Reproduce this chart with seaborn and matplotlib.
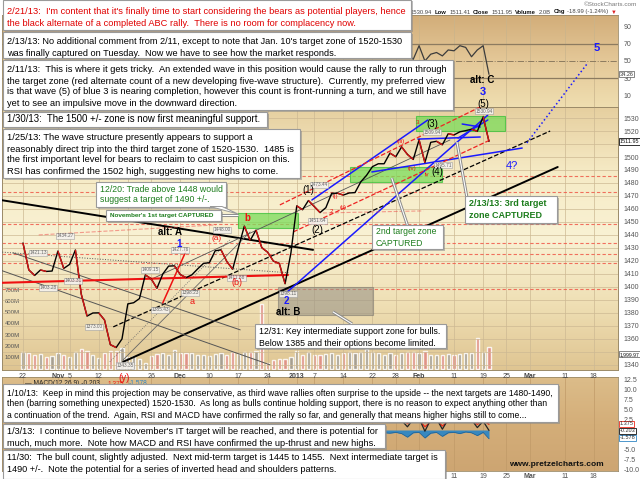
import numpy as np
import pandas as pd
import matplotlib.pyplot as plt
import matplotlib.patches as mpatches
import matplotlib.transforms as mtrans
from matplotlib.collections import LineCollection
from matplotlib.colors import LinearSegmentedColormap
import seaborn as sns

sns.set_style("white")
plt.rcParams['font.family'] = ['Liberation Sans', 'DejaVu Sans']

# ============================================
# Chart data (trading-day index 0 = 22 Oct 2012)
# ============================================

close = [1433.8, 1413.1, 1408.8, 1413.0, 1411.9, 1412.2, 1427.6, 1414.2, 1417.3, 1428.4,
         1394.5, 1377.5, 1379.9, 1380.0, 1374.5, 1355.5, 1353.3, 1359.9, 1386.9, 1387.8,
         1391.0, 1409.2, 1406.3, 1398.9, 1409.9, 1416.0, 1416.2, 1409.5, 1407.1, 1409.3,
         1413.9, 1418.1, 1418.6, 1427.8, 1428.5, 1419.5, 1413.6, 1430.4, 1446.8, 1435.8,
         1443.7, 1430.2, 1426.7, 1419.8, 1418.1, 1402.4, 1426.2, 1462.4, 1459.4, 1466.5,
         1461.9, 1457.2, 1461.0, 1472.1, 1472.1, 1470.7, 1472.3, 1472.6, 1480.9, 1486.0,
         1492.6, 1494.8, 1494.8, 1503.0, 1500.2, 1507.8, 1502.0, 1498.1, 1513.2, 1495.7,
         1511.3, 1512.1, 1509.4, 1517.9, 1517.0, 1519.4, 1520.3, 1521.4, 1519.8, 1530.9,
         1512.0]
days = list(range(len(close)))

volume = [150, 140, 130, 135, 110, 120, 145, 125, 110, 150, 175, 165, 130, 100, 140, 165,
          160, 190, 110, 120, 95, 55, 120, 135, 140, 130, 170, 140, 140, 145, 130, 130,
          120, 135, 140, 125, 150, 135, 150, 155, 160, 580, 60, 80, 90, 95, 110, 160,
          130, 150, 125, 130, 135, 145, 130, 140, 150, 140, 155, 175, 150, 140, 130, 145,
          125, 140, 150, 155, 145, 160, 130, 125, 130, 135, 125, 135, 140, 145, 280, 150,
          200]

ind_days = list(range(60, 81))
rsi = [72, 73, 71, 75, 70, 74, 58, 52, 68, 50, 58, 60, 56, 63, 62, 68, 66, 55, 63, 68, 34.3]
macd = [3.0, 2.8, 3.1, 2.6, 2.9, 2.4, 0.8, 2.7, 2.9, -0.3, 2.6, 2.8, 0.2, 2.7, 2.9, 2.5,
        2.8, 2.6, 0.6, 2.2, -0.1]
signal = [2.7, 2.9, 2.8, 3.0, 2.7, 2.9, 1.6, 2.3, 2.6, 0.8, 2.0, 2.5, 1.0, 2.2, 2.6, 2.4,
          2.6, 2.5, 1.4, 2.4, 1.4]
hist = [-0.6, -0.5, -0.7, -0.8, -0.6, -0.9, -1.8, -0.7, -0.6, -2.0, -0.8, -0.6, -1.6, -0.7,
        -0.6, -0.9, -0.5, -0.7, -1.4, -0.6, -2.2]

tick_pos = [0, 6, 8, 13, 18, 22, 27, 32, 37, 42, 47, 50, 55, 60, 64, 68, 74, 79, 83, 87, 93, 98]
tick_lab = ['22', 'Nov', '5', '12', '', '26', 'Dec', '10', '17', '24', '2013', '7', '14',
            '22', '28', 'Feb', '11', '19', '25', 'Mar', '11', '18']
bold_ticks = ['Nov', 'Dec', '2013', 'Feb', 'Mar']
price_ticks = list(range(1340, 1531, 10))

# horizontal target levels (red dashed)
levels = [1485, 1473, 1448.5, 1434, 1425.5, 1418.5, 1398.5]

# target zones: (day0, day1, price0, price1)
green_zones = [(36.9, 47.2, 1445, 1457), (56.1, 71.9, 1481, 1492), (67.5, 82.7, 1520, 1531.5)]
support_zone = (43.8, 60.1, 1378.5, 1400)

# trend lines: (day0, price0, day1, price1, color, width, style, alpha)
trend_lines = [
    (-4.0, 1467.0, 49.8, 1428.5, 'black', 1.4, '-', 1),
    (17.2, 1342.3, 91.8, 1492.3, 'black', 1.4, '-', 1),
    (15.5, 1369.2, 90.5, 1520.0, 'black', 0.9, '--', 1),
    (-4.0, 1413.1, 42.4, 1340.0, '#555555', 0.7, '-', 1),
    (-1.7, 1426.2, 37.3, 1366.9, '#555555', 0.7, '-', 1),
    (-4.0, 1426.9, 45.8, 1410.8, '#555555', 0.7, ':', 1),
    (17.2, 1343.8, 39.0, 1442.3, '#666666', 0.6, '-', 1),
    (14.9, 1342.3, 35.5, 1436.2, '#666666', 0.6, ':', 1),
    (21.8, 1405.4, 73.3, 1513.1, '#555555', 0.6, '-', 1),
    (45.2, 1395.4, 79.8, 1532.3, '#1a1aff', 1.1, '-', 1),
    (49.6, 1466.9, 69.5, 1528.5, '#1a1aff', 1.1, '-', 1),
    (59.9, 1488.5, 85.7, 1506.9, '#1a1aff', 1.1, '-', 1),
    (67.8, 1513.8, 78.5, 1515.4, '#1a1aff', 1.1, '-', 1),
    (75.4, 1525.4, 78.5, 1523.1, '#1a1aff', 1.1, '-', 1),
    (74.7, 1514.6, 79.8, 1528.5, '#1a1aff', 1.1, '-', 1),
    (44.1, 1463.1, 78.8, 1539.2, '#ee2222', 0.9, '--', 1),
    (46.4, 1442.3, 80.2, 1513.1, '#ee2222', 0.9, '--', 1),
    (51.5, 1456.9, 68.7, 1458.5, '#ee4444', 0.8, '--', 0.5),
    (2.7, 1440.0, 33.1, 1447.7, '#ee4444', 0.8, '--', 0.5),
    (-4.0, 1403.1, 45.5, 1409.2, '#ee1111', 1.5, '-', 1),
    (24.0, 1387.7, 28.0, 1427.7, '#ee1111', 1.1, '-', 1),
]
blue_dotted = (86.5, 1510.8, 96.8, 1571.5)

# gray pointer lines from comment boxes
pointers = [(63.3, 1483.8, 66.1, 1446.2), (74.5, 1511.5, 76.2, 1469.2),
            (53.2, 1380.8, 56.5, 1371.5), (34.0, 1455.4, 36.9, 1455.4)]

# wave labels: (text, day, price, color, size, weight)
wave_labels = [
    ('alt: A', 25.2, 1442.3, 'black', 7, 'bold'), ('1', 26.8, 1433.0, '#1a1aff', 7, 'bold'),
    ('(a)', 33.3, 1437.0, '#ee1111', 6, 'normal'), ('b', 38.5, 1453.0, '#ee1111', 7, 'bold'),
    ('(b)', 36.7, 1403.0, '#ee1111', 6.5, 'normal'), ('a', 29.0, 1388.5, '#ee1111', 6.5, 'normal'),
    ('2', 45.3, 1389.0, '#1a1aff', 7, 'bold'), ('alt: B', 45.5, 1380.8, 'black', 7, 'bold'),
    ('(1)', 48.9, 1474.6, 'black', 7, 'normal'), ('(2)', 50.6, 1443.8, 'black', 7, 'normal'),
    ('(3)', 70.2, 1525.4, 'black', 7, 'normal'), ('(4)', 71.2, 1488.5, 'black', 7, 'normal'),
    ('(5)', 79.0, 1540.8, 'black', 7, 'normal'), ('3', 79.0, 1550.0, '#1a1aff', 8, 'bold'),
    ('alt: C', 78.8, 1559.2, 'black', 7, 'bold'), ('4?', 83.9, 1493.0, '#1a1aff', 8, 'normal'),
    ('5', 98.5, 1583.8, '#1a1aff', 8, 'bold'), ('(y)', 17.3, 1330.0, '#ee1111', 7, 'normal'),
]
small_red = [('3', 67.8, 1526.2), ('(iii)', 64.9, 1512.3), ('(iv)', 66.8, 1491.5),
             ('iv', 69.4, 1486.2), ('(i)', 53.6, 1469.5), ('2', 53.0, 1457.7), ('(ii)', 54.9, 1461.2)]

# small price tags on highs/lows
price_tags = [('1434.27', 7.2, 1439.2), ('1421.13', 2.6, 1426.2), ('1403.28', 4.3, 1399.2),
              ('1403.31', 8.6, 1404.6), ('1373.00', 12.2, 1369.2), ('1343.35', 17.5, 1339.5),
              ('1409.15', 21.8, 1413.0), ('1385.43', 23.5, 1382.3), ('1427.76', 27.0, 1428.5),
              ('1398.23', 28.7, 1395.4), ('1411.88', 36.7, 1407.0), ('1398.11', 45.5, 1394.6),
              ('1448.00', 34.2, 1443.8), ('1473.44', 50.8, 1478.5), ('1451.64', 50.6, 1450.8),
              ('1509.94', 70.2, 1519.2), ('1495.71', 72.1, 1493.8), ('1530.94', 79.1, 1535.4)]

# comment boxes: (x0, y0, x1, y1) in pixels, lines, line y's, colour, size, weight
GREEN = '#1d7d1d'
boxes = [
    ((3, 0, 411, 30), ["2/21/13:  I'm content that it's finally time to start considering the bears as potential players, hence",
                       "the black alternate of a completed ABC rally.  There is no room for complacency now."],
     [12, 24], '#e00000', 6.7, 'normal'),
    ((3, 32, 411, 58), ["2/13/13: No additional comment from 2/11, except to note that Jan. 10's target zone of 1520-1530",
                        "was finally captured on Tuesday.  Now we have to see how the market responds."],
     [42, 53], 'black', 6.6, 'normal'),
    ((3, 60, 453, 110), ["2/11/13:  This is where it gets tricky.  An extended wave in this position would cause the rally to run through",
                         "the target zone (red alternate count of a new developing five-wave structure).  Currently, my preferred view",
                         "is that wave (5) of blue 3 is nearing completion, however this count is front-running a turn, and we still have",
                         "yet to see an impulsive move in the downward direction."],
     [69, 81, 92, 103], 'black', 6.7, 'normal'),
    ((3, 112, 267, 127), ["1/30/13:  The 1500 +/- zone is now first meaningful support."], [119.5], 'black', 6.9, 'normal'),
    ((3, 129, 300, 178), ["1/25/13: The wave structure presently appears to support a",
                          "reasonably direct trip into the third target zone of 1520-1530.  1485 is",
                          "the first important level for bears to reclaim to cast suspicion on this.",
                          "RSI has confirmed the 1502 high, suggesting new highs to come."],
     [138, 149, 160, 171], 'black', 6.75, 'normal'),
    ((96, 182, 226, 207), ["12/20: Trade above 1448 would", "suggest a target of 1490 +/-."],
     [189, 200], GREEN, 6.3, 'normal'),
    ((106, 210, 221, 221), ["November's 1st target CAPTURED"], [215.5], GREEN, 4.6, 'bold'),
    ((372, 225, 443, 249), ["2nd target zone", "CAPTURED"], [232, 243], GREEN, 6.2, 'normal'),
    ((465, 196, 557, 223), ["2/13/13: 3rd target", "zone CAPTURED"], [204, 216], GREEN, 6.5, 'bold'),
    ((255, 324, 446, 348), ["12/31: Key intermediate support zone for bulls.",
                            "Below 1385 and their options become limited."], [331, 343], 'black', 6.3, 'normal'),
    ((3, 384, 558, 422), ["1/10/13:  Keep in mind this projection may be conservative, as third wave rallies often surprise to the upside -- the next targets are 1480-1490,",
                          "then (barring something unexpected) 1520-1530.  As long as bulls continue holding support, there is no reason to expect anything other than",
                          "a continuation of the trend.  Again, RSI and MACD have confirmed the rally so far, and generally that means higher highs still to come..."],
     [393, 404, 415], 'black', 6.2, 'normal'),
    ((3, 424, 385, 448), ["1/3/13:  I continue to believe November's IT target will be reached, and there is potential for",
                          "much, much more.  Note how MACD and RSI have confirmed the up-thrust and new highs."],
     [431, 443], 'black', 6.6, 'normal'),
    ((3, 450, 445, 479), ["11/30:  The bull count, slightly adjusted.  Next mid-term target is 1445 to 1455.  Next intermediate target is",
                          "1490 +/-.  Note the potential for a series of inverted head and shoulders patterns."],
     [458, 470], 'black', 6.6, 'normal'),
]

# ============================================
# Figure layout
# ============================================

W, H = 640, 479
fig = plt.figure(figsize=(6.4, 4.79), dpi=100)
fig.patch.set_facecolor('white')


def rect(x0, y0, x1, y1):
    return [x0 / W, 1 - y1 / H, (x1 - x0) / W, (y1 - y0) / H]


def fx(x):
    return x / W


def fy(y):
    return 1 - y / H


def gradient(ax, colors):
    cmap = LinearSegmentedColormap.from_list('bg', colors)
    grad = np.linspace(0, 1, 256).reshape(-1, 1)
    ax.imshow(grad, cmap=cmap, aspect='auto', extent=[0, 1, 0, 1],
              transform=ax.transAxes, zorder=-10, origin='upper')


ax_rsi = fig.add_axes(rect(2, 15, 618, 107))
ax_macd = fig.add_axes(rect(2, 377, 618, 471))
ax_vol = fig.add_axes(rect(2, 107, 618, 370))
ax_p = fig.add_axes(rect(2, 107, 618, 370))
ax_p.patch.set_alpha(0)

XLIM = (-3.6, 102.15)
for ax in (ax_rsi, ax_macd, ax_vol, ax_p):
    ax.set_xlim(*XLIM)
    for s in ax.spines.values():
        s.set_color('#9b8a68')
        s.set_linewidth(0.6)

gradient(ax_rsi, ['#d2ad79', '#e4c898', '#efdeb0'])
gradient(ax_vol, ['#e6cf9f', '#f6ebc6', '#f9f2d4', '#efdfb4', '#dfc592'])
gradient(ax_macd, ['#dcbd8a', '#d4ae79', '#cda572'])

# ============================================
# RSI panel
# ============================================

ax_rsi.set_ylim(-4.1, 104.1)
for lv, ls in [(70, '-'), (30, '-'), (50, '-.')]:
    ax_rsi.axhline(lv, color='#8c7b60', lw=0.9 if ls == '-' else 0.7, ls=ls, zorder=1)
sns.lineplot(x=ind_days, y=rsi, ax=ax_rsi, color='#3c3c3c', lw=0.9, zorder=3)
ax_rsi.yaxis.tick_right()
ax_rsi.set_yticks([10, 30, 50, 70, 90])
ax_rsi.set_xticks(tick_pos)
ax_rsi.set_xticklabels([])
ax_rsi.tick_params(axis='y', labelsize=5, colors='#555555', length=0, pad=4)
ax_rsi.tick_params(axis='x', length=0)
ax_rsi.grid(True, axis='x', color='#c9b48c', lw=0.5)
ax_rsi.set_xlabel('')
ax_rsi.set_ylabel('')
ax_rsi.text(1.003, 34.3, '34.26', transform=mtrans.blended_transform_factory(ax_rsi.transAxes, ax_rsi.transData),
            fontsize=4.0, va='center', ha='left', color='#333',
            bbox=dict(boxstyle='square,pad=0.1', fc='white', ec='#555', lw=0.5))

# ============================================
# MACD panel
# ============================================

ax_macd.set_ylim(-10.25, 13.25)
ax_macd.fill_between(ind_days, 0, hist, color='#2f86c4', alpha=0.95, lw=0, zorder=2)
sns.lineplot(x=ind_days, y=hist, ax=ax_macd, color='#1f5f90', lw=0.5, zorder=2)
sns.lineplot(x=ind_days, y=signal, ax=ax_macd, color='#ee2a1a', lw=0.9, zorder=3)
sns.lineplot(x=ind_days, y=macd, ax=ax_macd, color='#222222', lw=0.9, zorder=4)
ax_macd.yaxis.tick_right()
ax_macd.set_yticks([12.5, 10, 7.5, 5, 2.5, -5, -7.5, -10])
ax_macd.set_yticklabels(['12.5', '10.0', '7.5', '5.0', '2.5', '-5.0', '-7.5', '-10.0'])
ax_macd.set_xticks(tick_pos)
ax_macd.set_xticklabels(tick_lab)
ax_macd.tick_params(axis='y', labelsize=5, colors='#555555', length=0, pad=4)
ax_macd.tick_params(axis='x', labelsize=5, colors='#555555', length=0, pad=1.5)
ax_macd.grid(True, axis='x', color='#c09a68', lw=0.5)
ax_macd.set_xlabel('')
ax_macd.set_ylabel('')
mtr = mtrans.blended_transform_factory(ax_macd.transAxes, ax_macd.transData)
for val, txt, col in [(1.6, '1.375', '#ee2a1a'), (-0.203, '-0.203', '#111111'), (-1.95, '-1.578', '#2f86c4')]:
    ax_macd.text(1.003, val, txt, transform=mtr, fontsize=4.0, va='center', ha='left', color='#333',
                 bbox=dict(boxstyle='square,pad=0.1', fc='white', ec=col, lw=0.6))
ax_macd.text(0.037, 0.935, '\u2014 MACD(12,26,9) -0.203,', transform=ax_macd.transAxes,
             fontsize=4.8, color='#222', va='center')
ax_macd.text(0.172, 0.935, '1.375,', transform=ax_macd.transAxes, fontsize=4.8, color='#ee2a1a', va='center')
ax_macd.text(0.205, 0.935, '-1.578', transform=ax_macd.transAxes, fontsize=4.8, color='#2f86c4', va='center')

# ============================================
# Volume (behind price)
# ============================================

vol_df = pd.DataFrame({'day': days, 'volume': volume, 'close': close})
vol_df['up'] = vol_df['close'].diff().fillna(1) >= 0
ax_vol.set_ylim(-6, 2315)
ax_vol.bar(vol_df['day'], vol_df['volume'], width=0.55,
           color=np.where(vol_df['up'], '#9d9890', '#e08a84'), alpha=0.85, zorder=1)
ax_vol.set_xticks([])
ax_vol.set_yticks([])
vtr = mtrans.blended_transform_factory(ax_vol.transAxes, ax_vol.transData)
for v in range(100, 800, 100):
    ax_vol.text(0.004, v, f'{v}M', transform=vtr, fontsize=4.3, color='#555', va='center', ha='left')

# ============================================
# Price panel
# ============================================

ax_p.set_ylim(1336, 1538.5)
ax_p.yaxis.tick_right()
ax_p.set_yticks(price_ticks)
# the 1510 and 1350 labels sit under the last-value tags
ax_p.set_yticklabels(['' if t in (1510, 1350) else str(t) for t in price_ticks])
ax_p.set_xticks(tick_pos)
ax_p.set_xticklabels(tick_lab)
for lab in ax_p.get_xticklabels() + ax_macd.get_xticklabels():
    if lab.get_text() in bold_ticks:
        lab.set_fontweight('bold')
ax_p.tick_params(axis='y', labelsize=5, colors='#555555', length=0, pad=4)
ax_p.tick_params(axis='x', labelsize=5, colors='#444444', length=0, pad=2)
ax_p.grid(True, color='#cdb993', lw=0.5, zorder=0)
ax_p.set_axisbelow(True)

for lv in levels:
    ax_p.axhline(lv, color='#f05a4a', lw=0.8, ls=(0, (3, 2)), alpha=0.85, zorder=1)

for d0, d1, p0, p1 in green_zones:
    ax_p.add_patch(mpatches.Rectangle((d0, p0), d1 - d0, p1 - p0, fc='#7bdc5a', ec='#38c038',
                                      alpha=0.75, lw=0.8, zorder=1.5))
d0, d1, p0, p1 = support_zone
ax_p.add_patch(mpatches.Rectangle((d0, p0), d1 - d0, p1 - p0, fc='#9a9486', ec='#7f7a70',
                                  alpha=0.6, lw=0.8, zorder=1.5))

# price line: black for up days, red for down days
sns.lineplot(x=days, y=close, ax=ax_p, color='black', lw=1.0, zorder=4)
pts = np.column_stack([days, close])
segs = np.stack([pts[:-1], pts[1:]], axis=1)
down = np.diff(close) < 0
ax_p.add_collection(LineCollection(segs[down], colors='#d41414', linewidths=1.0, zorder=4.5))

for d0, p0, d1, p1, col, lw, ls, al in trend_lines:
    ax_p.plot([d0, d1], [p0, p1], color=col, lw=lw, ls=ls, alpha=al, zorder=3)
d0, p0, d1, p1 = blue_dotted
ax_p.plot([d0, d1], [p0, p1], color='#1a1aff', lw=1.1, ls=':', zorder=3, clip_on=False)

for d0, p0, d1, p1 in pointers:
    ax_p.plot([d0, d1], [p0, p1], color='#8a8a8a', lw=2.2, zorder=6, solid_capstyle='butt')
    ax_p.plot([d0, d1], [p0, p1], color='white', lw=0.8, zorder=6.1, solid_capstyle='butt')

for txt, d, p in price_tags:
    ax_p.text(d, p, txt, fontsize=3.4, ha='center', va='center', color='#666', zorder=5,
              bbox=dict(boxstyle='square,pad=0.12', fc='#f4f2ee', ec='#999', lw=0.4, alpha=0.9))

for txt, d, p, col, sz, wt in wave_labels:
    ax_p.text(d, p, txt, fontsize=sz, color=col, fontweight=wt, ha='center', va='center',
              zorder=7, clip_on=False)
for txt, d, p in small_red:
    ax_p.text(d, p, txt, fontsize=4.5, color='#ee1111', ha='center', va='center', zorder=7)

ptr = mtrans.blended_transform_factory(ax_p.transAxes, ax_p.transData)
ax_p.text(1.003, 1511.95, '1511.95', transform=ptr, fontsize=4.0, va='center', ha='left', color='#111',
          zorder=8, bbox=dict(boxstyle='square,pad=0.1', fc='white', ec='#111', lw=0.6))
ax_p.text(1.003, 1348.0, '1,999.97', transform=ptr, fontsize=3.6, va='center', ha='left', color='#111',
          zorder=8, bbox=dict(boxstyle='square,pad=0.1', fc='white', ec='#555', lw=0.5))
ax_p.set_xlabel('')
ax_p.set_ylabel('')

# ============================================
# Header text
# ============================================

fig.text(fx(637), fy(5), '\u00a9StockCharts.com', ha='right', va='center', fontsize=4.6, color='#777', zorder=3)
header = [('\u25bc', 'normal', '#dd2222'), ('-18.99 (-1.24%)', 'normal', '#444'), ('Chg', 'bold', '#111'),
          ('2.0B', 'normal', '#444'), ('Volume', 'bold', '#111'), ('1511.95', 'normal', '#444'),
          ('Close', 'bold', '#111'), ('1511.41', 'normal', '#444'), ('Low', 'bold', '#111'),
          ('1530.94', 'normal', '#444'), ('gh', 'bold', '#111')]
renderer = fig.canvas.get_renderer()
xr = 617
for txt, wt, col in header:
    t = fig.text(fx(xr), fy(12), txt, ha='right', va='center', fontsize=4.2, fontweight=wt,
                 color=col, zorder=3)
    bb = t.get_window_extent(renderer=renderer)
    xr -= bb.width + 2.6

fig.text(fx(604), fy(465), 'www.pretzelcharts.com', ha='right', va='center', fontsize=6,
         fontweight='bold', color='#111', zorder=4)

# ============================================
# Comment boxes
# ============================================

for (x0, y0, x1, y1), lines, ys, col, sz, wt in boxes:
    shadow = mpatches.Rectangle((fx(x0 + 1.5), fy(y1 + 1.5)), (x1 - x0) / W, (y1 - y0) / H,
                                transform=fig.transFigure, fc='#8a8a8a', ec='none', alpha=0.55, zorder=19)
    box = mpatches.Rectangle((fx(x0), fy(y1)), (x1 - x0) / W, (y1 - y0) / H,
                             transform=fig.transFigure, fc='white', ec='#9a9a9a', lw=0.8, zorder=20)
    fig.add_artist(shadow)
    fig.add_artist(box)
    for line, yy in zip(lines, ys):
        fig.text(fx(x0 + 4), fy(yy), line, ha='left', va='center', fontsize=sz, fontweight=wt,
                 color=col, zorder=21)

# speech-bubble tail of the 12/20 box
tail = mpatches.Polygon([(fx(210), fy(206.5)), (fx(238), fy(214)), (fx(222), fy(206.5))],
                        closed=True, transform=fig.transFigure, fc='white', ec='#9a9a9a', lw=0.7, zorder=20)
fig.add_artist(tail)

plt.savefig('out.png', dpi=100)
